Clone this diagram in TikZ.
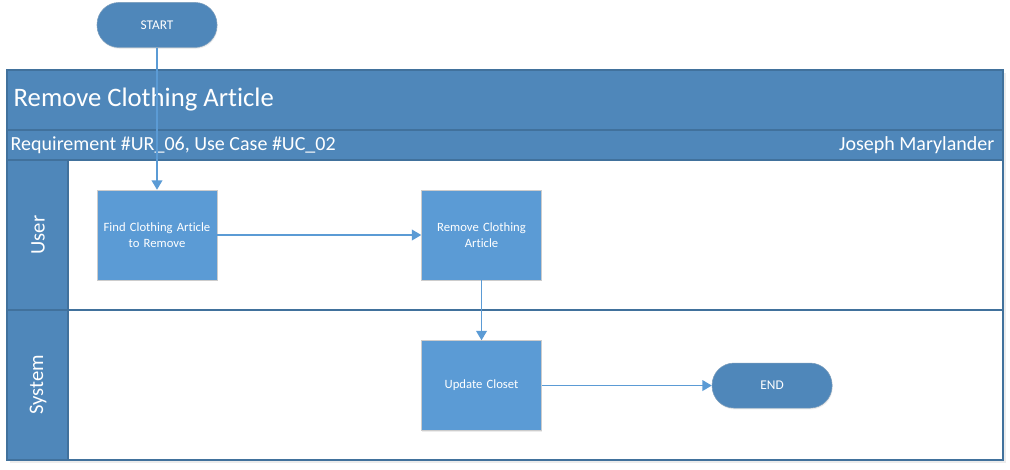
\documentclass[tikz,border=0pt]{standalone}
\usepackage{fontspec}
\setmainfont{Carlito}[Ligatures=NoCommon]
\usetikzlibrary{positioning,shadows,arrows.meta}

\definecolor{hdrblue}{HTML}{4F87BA}
\definecolor{boxblue}{HTML}{5B9BD5}
\definecolor{edgeblue}{HTML}{41719C}

\tikzset{
  band/.style={draw=edgeblue, fill=hdrblue, line width=0.8pt},
  lanebox/.style={draw=edgeblue, fill=white, line width=0.8pt},
  terminal/.style={rectangle, rounded corners=16.5pt, fill=hdrblue, draw=edgeblue!70,
    minimum width=90pt, minimum height=33.75pt, text=white, font=\fontsize{10}{12}\selectfont,
    drop shadow={opacity=0.15, shadow xshift=0.5pt, shadow yshift=-1pt}},
  process/.style={rectangle, fill=boxblue, draw=black!20, minimum width=90pt,
    minimum height=67.5pt, text width=84pt, inner xsep=2pt, align=center, text=white,
    font=\fontsize{9.5}{12}\selectfont,
    drop shadow={opacity=0.15, shadow xshift=0.5pt, shadow yshift=-1pt}},
  lanelabel/.style={rotate=90, text=white, font=\fontsize{15.5}{18}\selectfont},
  flow/.style={draw=boxblue, line width=1pt, -{Triangle[length=7pt, width=8pt]}},
}

\begin{document}
\begin{tikzpicture}[x=0.75pt, y=-0.75pt]
  \useasboundingbox (0,0) rectangle (1010,469);

  % Pool and lanes
  \draw[lanebox, drop shadow={opacity=0.15}] (7,70) rectangle (1003,460);
  \draw[band] (7,70) rectangle (1003,130);
  \draw[band] (7,130) rectangle (1003,160);
  \draw[lanebox] (68,160) rectangle (1003,310);
  \draw[lanebox] (68,310) rectangle (1003,460);
  \draw[band] (7,160) rectangle (68,310);
  \draw[band] (7,310) rectangle (68,460);

  % Headers
  \node[anchor=west, text=white, font=\fontsize{20}{24}\selectfont] (title) at (9,100) {Remove Clothing Article};
  \node[anchor=west, text=white, font=\fontsize{15}{18}\selectfont] (req) at (6,145) {Requirement \#UR\_06, Use Case \#UC\_02};
  \node[anchor=east, text=white, font=\fontsize{15}{18}\selectfont] (author) at (999,145) {Joseph Marylander};
  \node[lanelabel] (user) at (38,235) {User};
  \node[lanelabel] (system) at (38,385) {System};

  % Define nodes
  \node[process]                          (find)   at (157,235) {Find Clothing Article\\to Remove};
  \node[terminal, above=106.5pt of find]  (start)  {START};
  \node[process, right=153pt of find]     (remove) {Remove Clothing\\Article};
  \node[process, below=45pt of remove]    (update) {Update Closet};
  \node[terminal, right=127.5pt of update] (end)   {END};

  % Connect the nodes
  \draw[flow] (start) -- (find);
  \draw[flow] (find) -- (remove);
  \draw[flow] (remove) -- (update);
  \draw[flow] (update) -- (end);

\end{tikzpicture}
\end{document}
